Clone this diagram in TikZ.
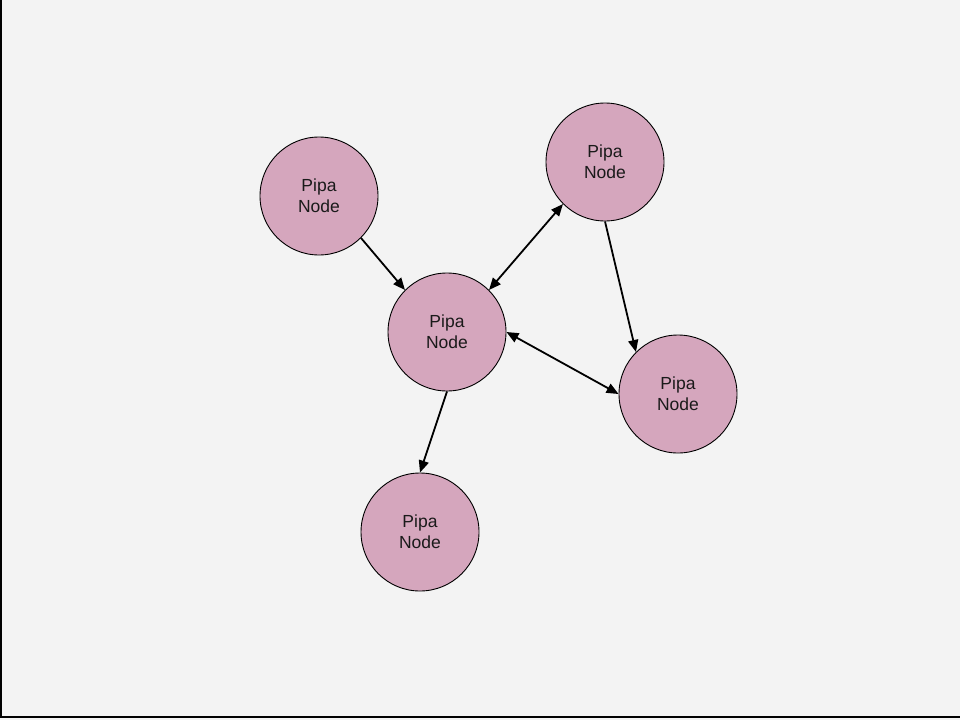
\documentclass[tikz,border=0pt]{standalone}
\usepackage{fontspec}
\setmainfont{Liberation Sans}
\usetikzlibrary{arrows.meta}
\definecolor{canvas}{HTML}{F3F3F3}
\definecolor{nodefill}{HTML}{D5A6BD}
\definecolor{inktext}{HTML}{1A1A1A}
\begin{document}
\begin{tikzpicture}[x=1pt,y=-1pt,
  pipa/.style={circle, draw=black, line width=0.9pt, fill=nodefill,
    minimum size=118pt, inner sep=0pt, align=center, text=inktext,
    font=\fontsize{17.5}{21}\selectfont},
  link/.style={line width=1.8pt, -{Triangle[length=12pt,width=10pt]}},
  biglink/.style={line width=1.8pt, {Triangle[length=12pt,width=10pt]}-{Triangle[length=12pt,width=10pt]}}]
  % canvas and its frame
  \fill[canvas] (0,0) rectangle (960,720);
  \useasboundingbox (0,0) rectangle (960,720);
  \draw[line width=1.6pt] (1,0) -- (1,717) -- (960,717);

  % nodes
  \node[pipa] (a) at (319,196) {Pipa\\Node};
  \node[pipa] (b) at (447,332) {Pipa\\Node};
  \node[pipa] (c) at (605,162) {Pipa\\Node};
  \node[pipa] (d) at (678,394) {Pipa\\Node};
  \node[pipa] (e) at (420,532) {Pipa\\Node};

  % connectors
  \draw[link] (a.south east) -- (b.north west);
  \draw[biglink] (b.north east) -- (c.south west);
  \draw[link] (c.south) -- (d.north west);
  \draw[biglink] (b.east) -- (d.west);
  \draw[link] (b.south) -- (e.north);
\end{tikzpicture}
\end{document}
